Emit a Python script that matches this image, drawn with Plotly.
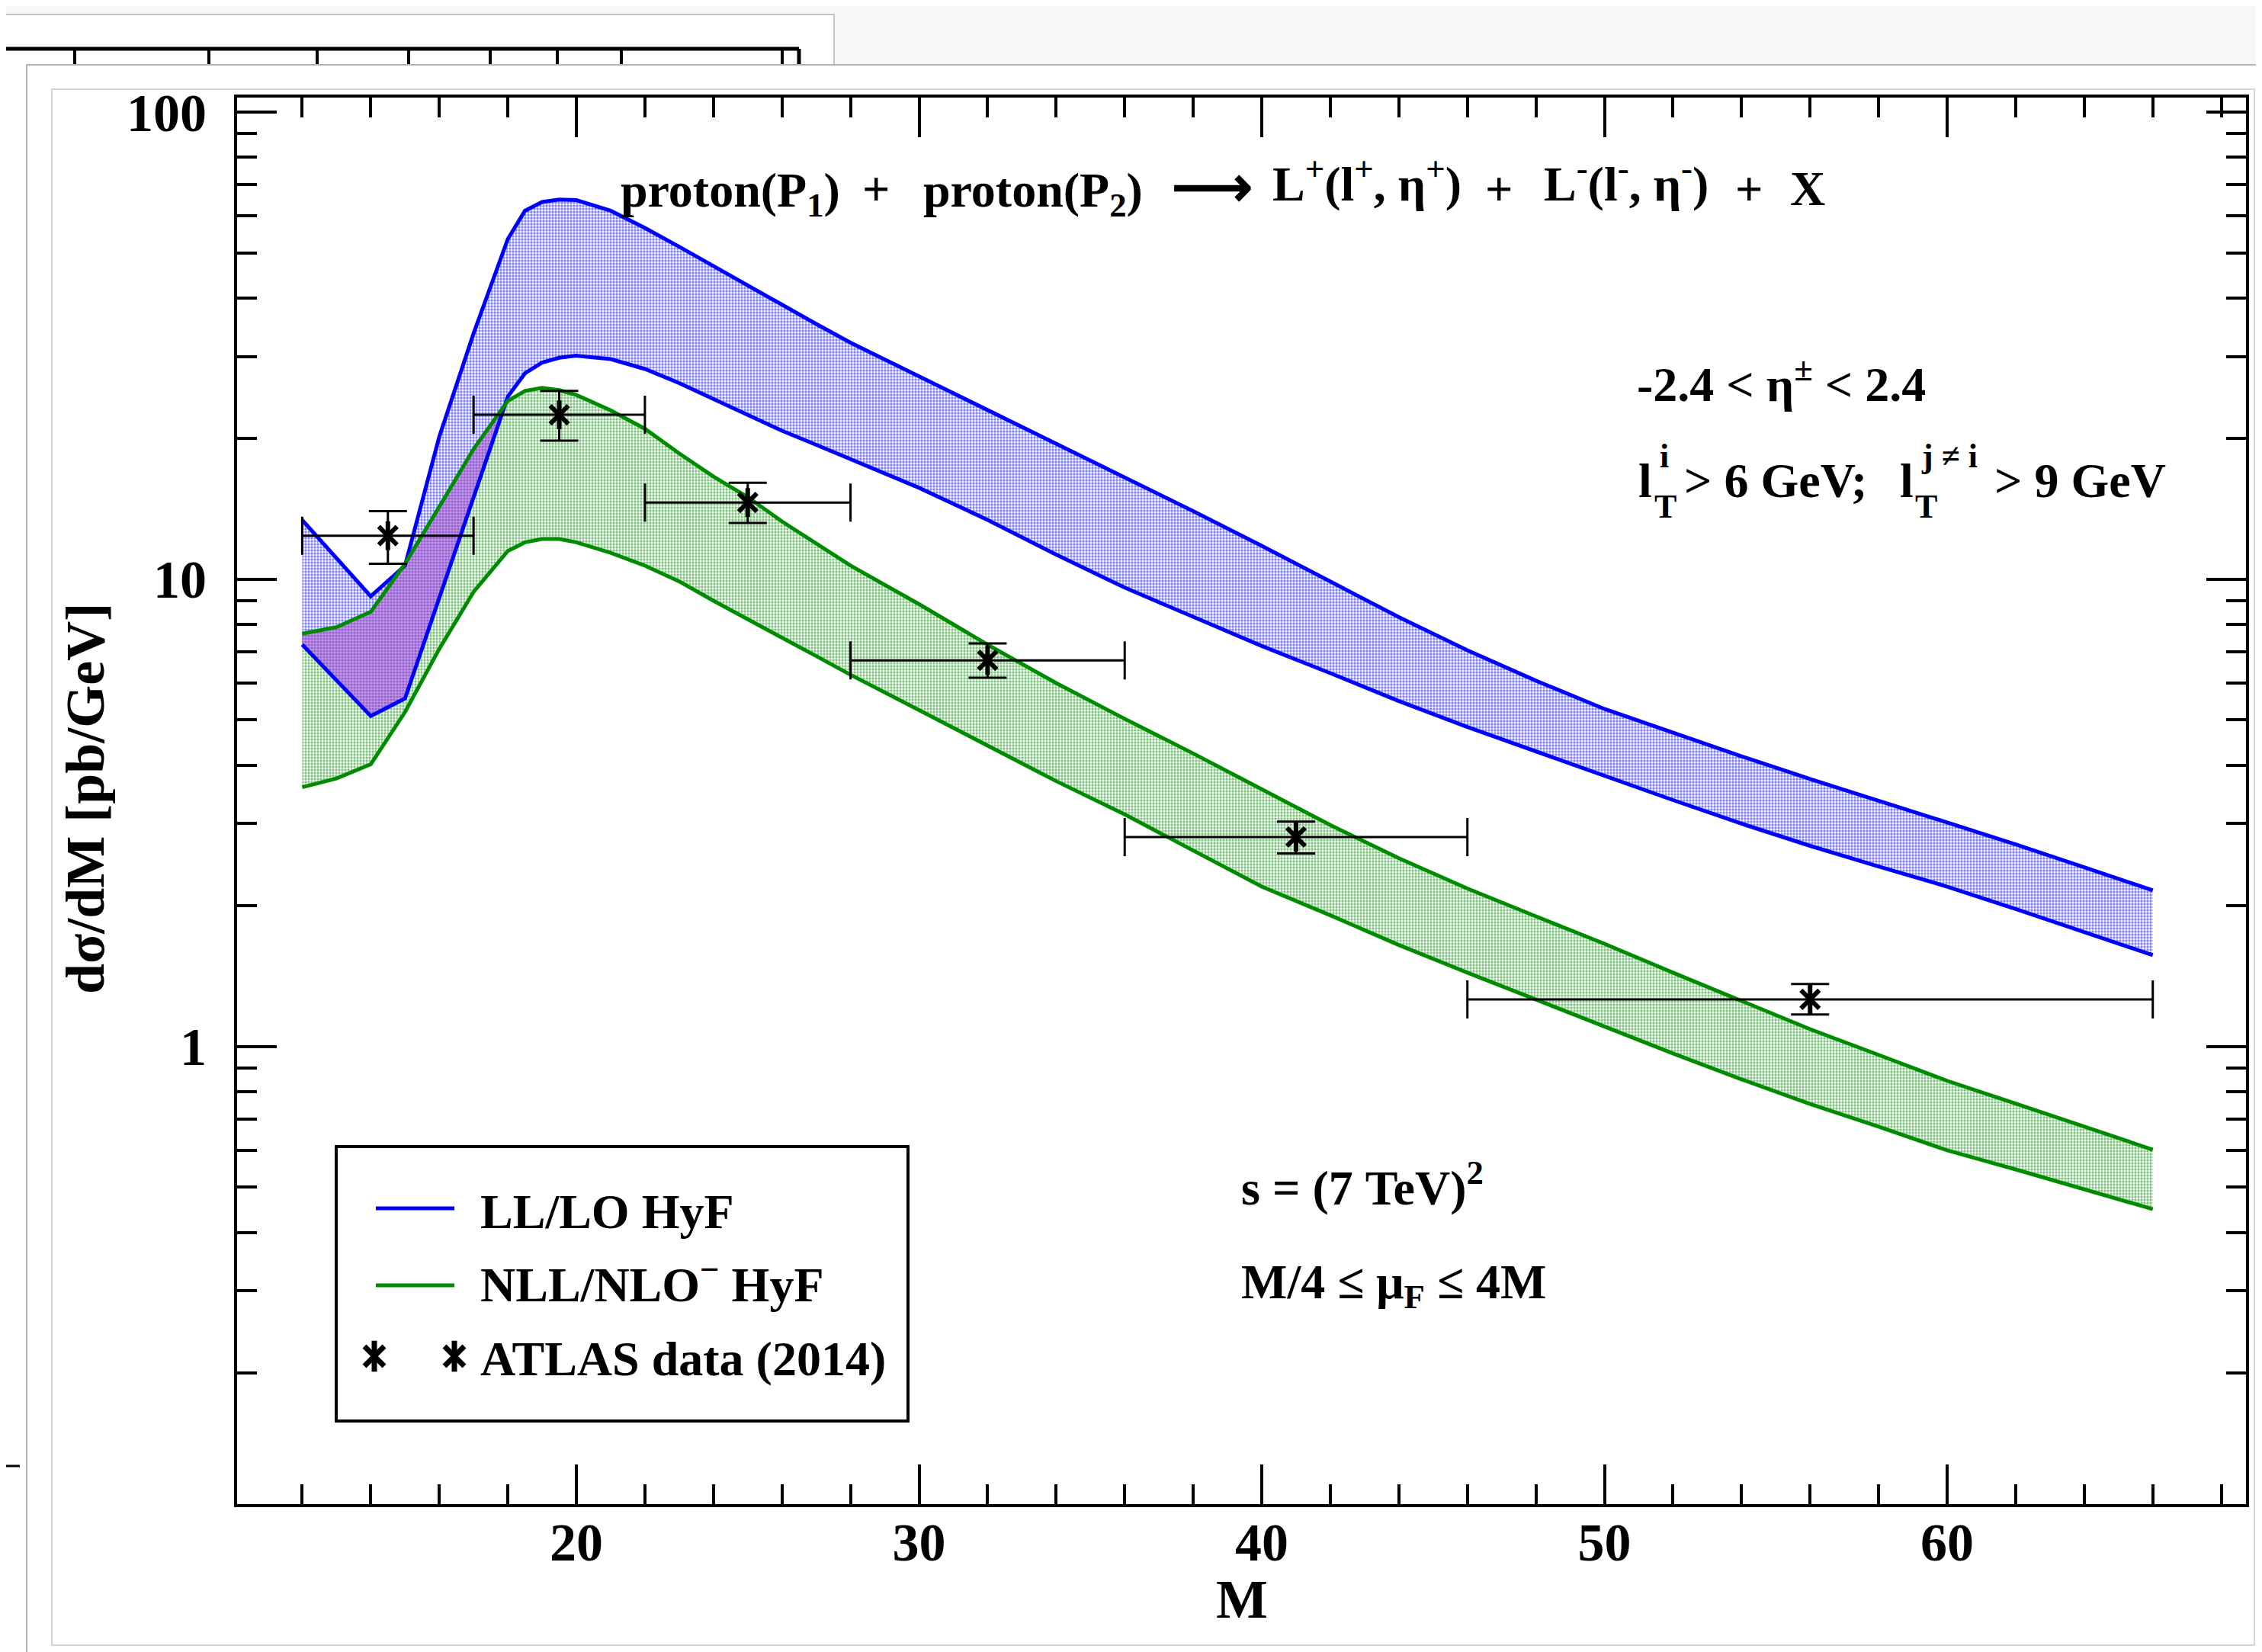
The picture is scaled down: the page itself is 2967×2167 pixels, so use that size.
import plotly.graph_objects as go

# ---------------- figure geometry ----------------
W, H = 2967, 2167
PL, PR, PT, PB = 303, 2938, 120, 1965   # plot-area edges in pixels


def fx(x):
    return (x - PL) / (PR - PL)


def fy(y):
    return (PB - y) / (PB - PT)


# ---------------- data ----------------
M = [12, 13, 14, 15, 16, 17, 18, 18.5, 19, 19.5, 20, 21, 22, 23, 24, 25, 26, 27, 28,
     30, 32, 34, 36, 38, 40, 42, 44, 46, 48, 50, 52, 54, 56, 58, 60, 62, 64, 66]

LL_UP = [13.4, 11.1, 9.2, 10.7, 20.2, 33.6, 53.5, 61.5, 64.2, 65.0, 64.8, 61.5, 56.5, 51.5,
         46.8, 42.5, 38.6, 35.2, 32.1, 27.2, 23.1, 19.6, 16.6, 14.0, 11.8, 9.9, 8.3, 7.05,
         6.07, 5.28, 4.70, 4.18, 3.74, 3.36, 3.03, 2.71, 2.42, 2.16]
LL_LO = [7.25, 6.08, 5.1, 5.56, 9.17, 15.1, 24.6, 27.6, 29.1, 29.8, 30.1, 29.6, 28.2, 26.3,
         24.3, 22.5, 20.8, 19.4, 18.1, 15.7, 13.4, 11.3, 9.6, 8.3, 7.2, 6.30, 5.49, 4.83,
         4.28, 3.79, 3.37, 3.00, 2.69, 2.43, 2.20, 1.97, 1.76, 1.57]
NLL_UP = [7.65, 7.9, 8.52, 10.8, 14.3, 19.0, 24.1, 25.3, 25.7, 25.4, 24.8, 23.0, 21.0, 18.6,
          16.6, 15.0, 13.3, 11.9, 10.7, 8.85, 7.25, 6.0, 5.03, 4.24, 3.55, 2.98, 2.53, 2.18,
          1.90, 1.66, 1.44, 1.25, 1.09, 0.96, 0.845, 0.755, 0.674, 0.602]
NLL_LO = [3.59, 3.75, 4.02, 5.2, 7.1, 9.4, 11.5, 12.0, 12.2, 12.2, 12.0, 11.4, 10.7, 9.9,
          9.0, 8.2, 7.5, 6.85, 6.25, 5.25, 4.4, 3.7, 3.14, 2.63, 2.20, 1.91, 1.65, 1.44,
          1.26, 1.10, 0.967, 0.851, 0.754, 0.674, 0.60, 0.546, 0.496, 0.449]

DATA_M = [14.5, 19.5, 25, 32, 41, 56]
DATA_V = [12.4, 22.5, 14.6, 6.71, 2.81, 1.262]
DATA_ERR_UP = [1.6, 2.8, 1.5, 0.58, 0.22, 0.10]
DATA_ERR_DN = [1.6, 2.7, 1.4, 0.55, 0.22, 0.09]
DATA_BIN_LO = [12, 17, 22, 28, 36, 46]
DATA_BIN_HI = [17, 22, 28, 36, 46, 66]

X_TICKS = [20, 30, 40, 50, 60]
X_TICK_TEXT = ["20", "30", "40", "50", "60"]
Y_TICKS = [1, 10, 100]
Y_TICK_TEXT = ["1", "10", "100"]
Y_MINOR = [k * 10.0 ** e for e in (-1, 0, 1) for k in range(2, 10)]

LEGEND_LABELS = ["LL/LO HyF", "NLL/NLO<sup>\u2212</sup> HyF", "ATLAS data (2014)"]

# ---------------- style ----------------
FONT = "Liberation Serif"
BLUE = "#0000ff"
GREEN = "#008b00"
PURPLE_FG = "#6a28b8"
PURPLE_BG = "#bf96e8"
NB = "\u00a0"
LW = 5

fig = go.Figure()


def band(up, lo, fg, sol):
    return go.Scatter(
        x=M + M[::-1], y=up + lo[::-1], fill="toself", mode="none",
        fillcolor="rgba(0,0,0,0)",
        fillpattern=dict(shape=".", fgcolor=fg, bgcolor="rgba(255,255,255,0)", size=4,
                         solidity=sol),
        hoverinfo="skip", showlegend=False)


fig.add_trace(band(LL_UP, LL_LO, BLUE, 0.55))
fig.add_trace(band(NLL_UP, NLL_LO, GREEN, 0.55))

# overlap of the two bands (purple)
ov_m, ov_up, ov_lo = [], [], []
for m, a, b, c, d in zip(M, LL_UP, LL_LO, NLL_UP, NLL_LO):
    if m > 18:
        break
    up = min(a, c)
    lo = max(b, d)
    if up < lo:
        up = lo
    ov_m.append(m)
    ov_up.append(up)
    ov_lo.append(lo)
fig.add_trace(go.Scatter(
    x=ov_m + ov_m[::-1], y=ov_up + ov_lo[::-1], fill="toself", mode="none",
    fillcolor="rgba(0,0,0,0)",
    fillpattern=dict(shape=".", fgcolor=PURPLE_FG, bgcolor=PURPLE_BG, size=4, solidity=0.5),
    hoverinfo="skip", showlegend=False))

for ys, col in ((LL_UP, BLUE), (LL_LO, BLUE), (NLL_UP, GREEN), (NLL_LO, GREEN)):
    fig.add_trace(go.Scatter(x=M, y=ys, mode="lines", line=dict(color=col, width=LW),
                             showlegend=False, hoverinfo="skip"))

# ATLAS data points
ex_p = [hi - m for hi, m in zip(DATA_BIN_HI, DATA_M)]
ex_m = [m - lo for lo, m in zip(DATA_BIN_LO, DATA_M)]
fig.add_trace(go.Scatter(
    x=DATA_M, y=DATA_V, mode="markers",
    marker=dict(symbol="x-thin-open", size=24, color="black", line=dict(color="black", width=6)),
    error_x=dict(type="data", symmetric=False, array=ex_p, arrayminus=ex_m,
                 thickness=3, width=25, color="black"),
    error_y=dict(type="data", symmetric=False, array=DATA_ERR_UP, arrayminus=DATA_ERR_DN,
                 thickness=3, width=25, color="black"),
    showlegend=False))
fig.add_trace(go.Scatter(
    x=DATA_M, y=DATA_V, mode="markers",
    marker=dict(symbol="line-ns-open", size=27, color="black", line=dict(color="black", width=6)),
    showlegend=False))

# legend asterisks on an overlay axis spanning the plot area
for sym, sz in (("x-thin-open", 26), ("line-ns-open", 29)):
    fig.add_trace(go.Scatter(
        x=[fx(483), fx(588)], y=[fy(1771), fy(1771)], xaxis="x2", yaxis="y2",
        mode="markers", cliponaxis=False,
        marker=dict(symbol=sym, size=sz, color="black", line=dict(color="black", width=7)),
        showlegend=False, hoverinfo="skip"))

axis_common = dict(
    ticks="inside", ticklen=52, tickwidth=4, tickcolor="black",
    showline=True, linewidth=4, linecolor="black", mirror="allticks",
    showgrid=False, zeroline=False,
    tickfont=dict(family=FONT, size=70, color="black", weight="bold"),
)

fig.update_layout(
    width=W, height=H,
    margin=dict(l=PL, r=W - PR, t=PT, b=H - PB, pad=0),
    paper_bgcolor="#f7f7f7", plot_bgcolor="rgba(0,0,0,0)",
    showlegend=False,
    xaxis=dict(range=[10.1, 68.72], tickmode="array", tickvals=X_TICKS, ticktext=X_TICK_TEXT,
               minor=dict(dtick=2, tick0=0, ticks="inside", ticklen=26, tickwidth=4,
                          tickcolor="black", showgrid=False),
               ticklabelstandoff=-14, **axis_common),
    yaxis=dict(type="log", range=[-0.979, 2.031], tickmode="array", tickvals=Y_TICKS,
               ticktext=Y_TICK_TEXT,
               minor=dict(tickmode="array", tickvals=Y_MINOR, ticks="inside", ticklen=26,
                          tickwidth=4, tickcolor="black", showgrid=False),
               ticklabelstandoff=22, **axis_common),
    xaxis2=dict(domain=[0, 1], range=[0, 1], overlaying="x", anchor="y2", visible=False),
    yaxis2=dict(domain=[0, 1], range=[0, 1], overlaying="y", anchor="x2", visible=False),
)

# ---------------- window chrome (screenshot frame) ----------------
shapes = []


def rect(x0, y0, x1, y1, line="#c8c8c8", lw=2, fill="white", layer="below"):
    shapes.append(dict(type="rect", xref="paper", yref="paper", x0=fx(x0), x1=fx(x1),
                       y0=fy(y0), y1=fy(y1), line=dict(color=line, width=lw),
                       fillcolor=fill, layer=layer))


def seg(x0, y0, x1, y1, color="black", lw=4, layer="below"):
    shapes.append(dict(type="line", xref="paper", yref="paper", x0=fx(x0), x1=fx(x1),
                       y0=fy(y0), y1=fy(y1), line=dict(color=color, width=lw), layer=layer))


rect(-10, 11, 1086, 2200, line="#c4c4c4", lw=2)          # window behind
seg(-5, 56, 1040, 56, lw=5)
for tx in (90, 266, 408, 528, 635, 723, 807, 1018):
    seg(tx, 56, tx, 76, lw=4)
seg(1040, 56, 1040, 80, lw=5)
seg(0, 1915, 18, 1915, lw=3)
rect(27, 77, 2990, 2200, line="#b4b4b4", lw=2)            # front window
rect(60, 109, 2949, 2150, line="#d4d4d4", lw=2, fill="rgba(0,0,0,0)")

# legend box and lines
rect(433, 1496, 1183, 1856, line="black", lw=4, fill="rgba(0,0,0,0)", layer="above")
seg(485, 1577, 588, 1577, color=BLUE, lw=LW, layer="above")
seg(485, 1678, 588, 1678, color=GREEN, lw=LW, layer="above")

fig.update_layout(shapes=shapes)

# ---------------- text ----------------
anns = []


def ann(text, x, y, size=64, xanchor="left", yanchor="middle", angle=0):
    anns.append(dict(text=text, x=fx(x), y=fy(y), xref="paper", yref="paper",
                     xanchor=xanchor, yanchor=yanchor, showarrow=False, textangle=angle,
                     font=dict(family=FONT, size=size, color="black", weight="bold")))


# reaction line, placed piece by piece (plain / with subscript / with superscript)
ann("proton(P<sub>1</sub>)", 804, 246)
ann("+", 1141, 239, xanchor="center")
ann("proton(P<sub>2</sub>)", 1201, 246)
ann("\u27f6", 1582, 237, size=74, xanchor="center")
ann("L<sup>+</sup>(l<sup>+</sup>," + NB + "\u03b7<sup>+</sup>)", 1659, 228)
ann("+", 1958, 239, xanchor="center")
ann("L<sup>-</sup>(l<sup>-</sup>," + NB + "\u03b7<sup>-</sup>)", 2015, 228)
ann("+", 2286, 239, xanchor="center")
ann("X", 2338, 239)

ann("-2.4" + NB + "&lt;" + NB + "\u03b7<sup>\u00b1</sup>" + NB + "&lt;" + NB + "2.4", 2137, 491)

ann("l", 2139, 622)
ann("T", 2160, 657, size=44)
ann("i", 2167, 590, size=44)
ann("&gt;" + NB + "6" + NB + "GeV;", 2199, 622)
ann("l", 2482, 622)
ann("T", 2502, 657, size=44)
ann("j" + NB + "\u2260" + NB + "i", 2510, 590, size=44)
ann("&gt;" + NB + "9" + NB + "GeV", 2606, 622)

ann("s" + NB + "=" + NB + "(7" + NB + "TeV)<sup>2</sup>", 1618, 1545)
ann("M/4" + NB + "\u2264" + NB + "\u03bc<sub>F</sub>" + NB + "\u2264" + NB + "4M", 1618, 1678)

ann("d\u03c3/dM [pb/GeV]", 104, 1040, size=72, xanchor="center", angle=-90)
ann("M", 1621, 2090, size=72, xanchor="center")

for lab, yy in zip(LEGEND_LABELS, (1581, 1672, 1774)):
    ann(lab, 620, yy)

fig.update_layout(annotations=anns)

fig.write_html("out.html")
